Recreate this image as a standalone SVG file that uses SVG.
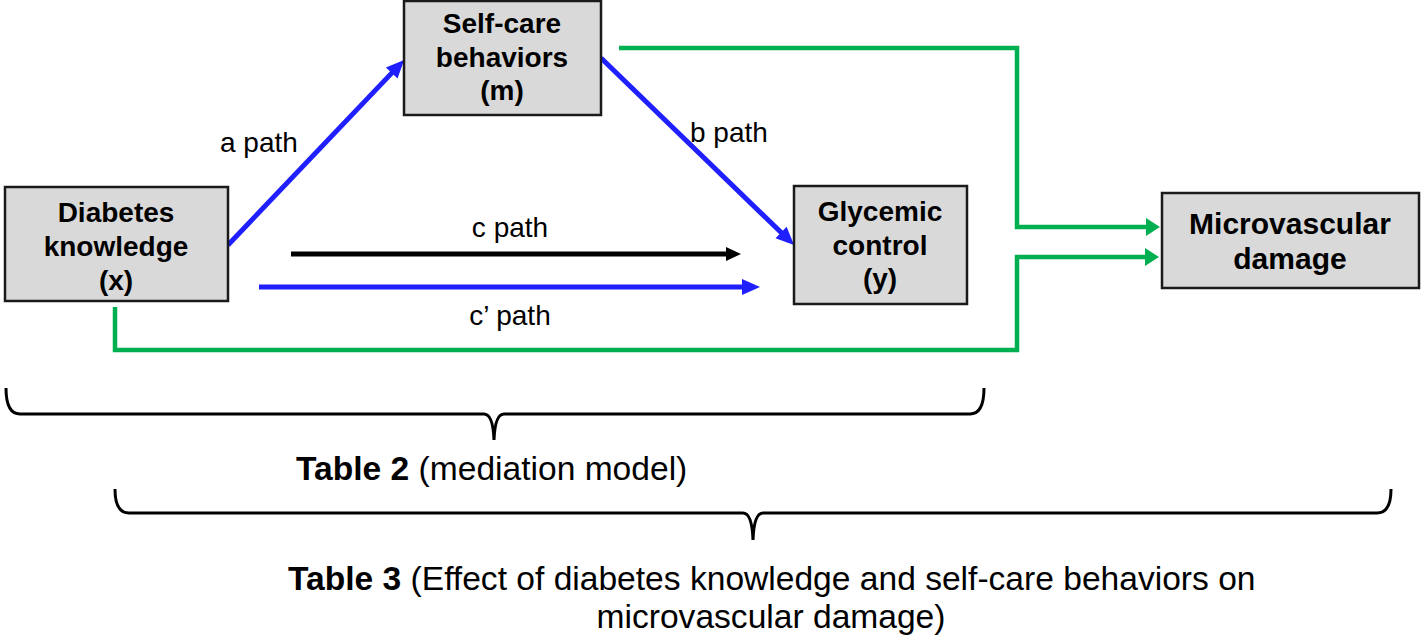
<svg xmlns="http://www.w3.org/2000/svg" width="1421" height="637" viewBox="0 0 1421 637">
<style>
.box{fill:#d9d9d9;stroke:#1a1a1a;stroke-width:2.5}
.nt{font-family:"Liberation Sans",Arial,sans-serif;font-weight:bold;font-size:28px;fill:#000;text-anchor:middle}
.lbl{font-family:"Liberation Sans",Arial,sans-serif;font-size:28px;fill:#000}
.bt{font-family:"Liberation Sans",Arial,sans-serif;font-size:33.6px;fill:#000}
.blue{stroke:#1f1fff;stroke-width:5;fill:none}
.green{stroke:#00b050;stroke-width:4.5;fill:none}
.black{stroke:#000;stroke-width:5;fill:none}
.brace{stroke:#000;stroke-width:3;fill:none}
</style>
<defs>
<marker id="mBlue" markerUnits="userSpaceOnUse" markerWidth="18" markerHeight="16" refX="12" refY="8" orient="auto" overflow="visible"><path d="M0,0 L18,8 L0,16 z" fill="#1f1fff"/></marker>
<marker id="mGreen" markerUnits="userSpaceOnUse" markerWidth="14" markerHeight="18" refX="8" refY="9" orient="auto" overflow="visible"><path d="M0,0 L14,9 L0,18 z" fill="#00b050"/></marker>
<marker id="mBlack" markerUnits="userSpaceOnUse" markerWidth="15" markerHeight="14" refX="9" refY="7" orient="auto" overflow="visible"><path d="M0,0 L15,7 L0,14 z" fill="#000"/></marker>
</defs>
<g id="connectors">
<line class="blue" x1="228" y1="245" x2="400" y2="64.4" marker-end="url(#mBlue)"/>
<line class="blue" x1="601" y1="58" x2="789.7" y2="240.8" marker-end="url(#mBlue)"/>
<line class="black" x1="291" y1="254" x2="735" y2="254" marker-end="url(#mBlack)"/>
<line class="blue" x1="259" y1="287" x2="754" y2="287" marker-end="url(#mBlue)"/>
<polyline class="green" points="619,48 1017,48 1017,227 1154,227" marker-end="url(#mGreen)"/>
<polyline class="green" points="115,307 115,350 1017,350 1017,257 1153,257" marker-end="url(#mGreen)"/>
<text class="lbl" x="220" y="152">a path</text>
<text class="lbl" x="690" y="142">b path</text>
<text class="lbl" x="510" y="237" text-anchor="middle">c path</text>
<text class="lbl" x="510" y="325" text-anchor="middle">c’ path</text>
</g>
<g id="node-x">
<rect class="box" x="5" y="187" width="223" height="114"/>
<text class="nt" x="116" y="222">Diabetes</text>
<text class="nt" x="116" y="256">knowledge</text>
<text class="nt" x="116" y="290">(x)</text>
</g>
<g id="node-m">
<rect class="box" x="404" y="1" width="197" height="114"/>
<text class="nt" x="502" y="33">Self-care</text>
<text class="nt" x="502" y="67">behaviors</text>
<text class="nt" x="502" y="100">(m)</text>
</g>
<g id="node-y">
<rect class="box" x="794" y="186" width="173" height="118"/>
<text class="nt" x="880" y="221">Glycemic</text>
<text class="nt" x="880" y="255">control</text>
<text class="nt" x="880" y="288">(y)</text>
</g>
<g id="node-damage">
<rect class="box" x="1162" y="193" width="257" height="95"/>
<text class="nt" x="1290" y="234" style="font-size:30px">Microvascular</text>
<text class="nt" x="1290" y="269" style="font-size:30px">damage</text>
</g>
<g id="brace-table2">
<path class="brace" d="M6,388 Q6,414 20,414 L484,414 Q493,414 494,440 Q495,414 504,414 L970,414 Q984,414 984,388"/>
<text class="bt" x="296" y="480"><tspan font-weight="bold">Table 2</tspan> (mediation model)</text>
</g>
<g id="brace-table3">
<path class="brace" d="M115,489 Q115,513 129,513 L743,513 Q752,513 753,540 Q754,513 763,513 L1377,513 Q1391,513 1391,489"/>
<text class="bt" x="288" y="590"><tspan font-weight="bold">Table 3</tspan> (Effect of diabetes knowledge and self-care behaviors on</text>
<text class="bt" x="771" y="628" text-anchor="middle">microvascular damage)</text>
</g>
</svg>
